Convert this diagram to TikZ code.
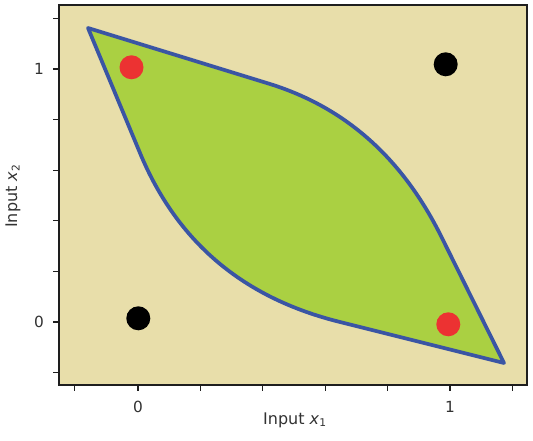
\documentclass[tikz,border=0pt]{standalone}
\usepackage{fontspec}
\setmainfont{DejaVu Sans}
\definecolor{bgbeige}{RGB}{232,222,170}
\definecolor{regiongreen}{RGB}{170,208,66}
\definecolor{edgeblue}{RGB}{58,85,164}
\definecolor{dotred}{RGB}{236,50,50}
\definecolor{axisdark}{RGB}{30,30,30}
\definecolor{labelgray}{RGB}{50,50,50}
\tikzset{
  dotnode/.style={circle, inner sep=0pt, minimum size=18pt},
  ticklabel/.style={font=\fontsize{11.5}{13}\selectfont, text=labelgray},
  axislabel/.style={font=\fontsize{12}{14}\selectfont, text=labelgray},
  tickline/.style={draw=axisdark, line width=0.9pt},
}
\begin{document}
\begin{tikzpicture}[x=0.75pt, y=-0.75pt]
\useasboundingbox (0,0) rectangle (533,441);
% plot background
\fill[bgbeige] (59,5) rectangle (527,385);
% region
\filldraw[fill=regiongreen, draw=edgeblue, line width=2.8pt, line join=round]
  (88,28) -- (270,84) .. controls (345,107.5) and (401,157) .. (440,234)
  -- (504,363) -- (340,322) .. controls (243,298) and (177,242) .. (140,153)
  -- cycle;
% frame
\draw[axisdark, line width=1.1pt] (59,5) rectangle (527,385);
% x ticks
\foreach \xx in {74.4, 138, 200.4, 262.8, 325.2, 387.6, 450, 512.4}{
  \draw[tickline] (\xx,385) -- (\xx,391);
}
% y ticks
\foreach \yy in {18.4, 69, 119.6, 170.2, 220.8, 271.4, 322, 372.6}{
  \draw[tickline] (59,\yy) -- (53,\yy);
}
% tick labels
\node[ticklabel] (xl0) at (138,407) {0};
\node[ticklabel] (xl1) at (450,407) {1};
\node[ticklabel] (yl1) at (39,69) {1};
\node[ticklabel] (yl0) at (39,322) {0};
% axis labels
\node[axislabel] (xlab) at (295,420) {Input \textit{x}\textsubscript{1}};
\node[axislabel, rotate=90] (ylab) at (13,196) {Input \textit{x}\textsubscript{2}};
% data points
\node[dotnode, fill=dotred] (p01) at (131.5,67.3) {};
\node[dotnode, fill=black] (p00) at (138.3,318.3) {};
\node[dotnode, fill=black] (p11) at (445.7,64.3) {};
\node[dotnode, fill=dotred] (p10) at (448.3,324.3) {};
\end{tikzpicture}
\end{document}
